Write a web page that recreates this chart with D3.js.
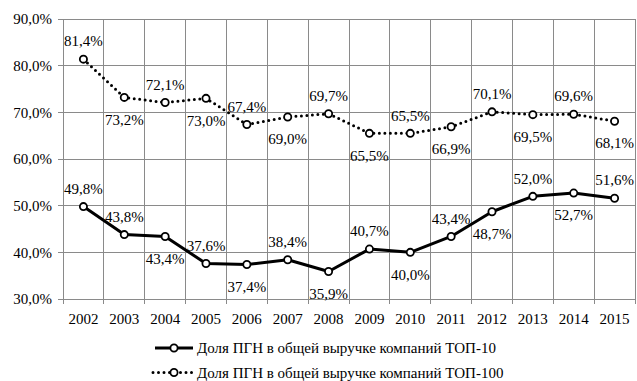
<!DOCTYPE html>
<html><head><meta charset="utf-8">
<script src="https://cdn.jsdelivr.net/npm/d3@7"></script>
<style>html,body{margin:0;padding:0;background:#fff;}svg{display:block;font-family:"Liberation Serif","Times New Roman",serif;}</style>
</head><body>
<svg id="c" width="637" height="381"></svg>
<script>
const years = ["2002","2003","2004","2005","2006","2007","2008","2009","2010","2011","2012","2013","2014","2015"];
const top10 = [49.8, 43.8, 43.4, 37.6, 37.4, 38.4, 35.9, 40.7, 40.0, 43.4, 48.7, 52.0, 52.7, 51.6];
const top100 = [81.4, 73.2, 72.1, 73.0, 67.4, 69.0, 69.7, 65.5, 65.5, 66.9, 70.1, 69.5, 69.6, 68.1];
const top10LabelSide = ["above","above","below","above","below","above","below","above","below","above","below","above","below","above"];
const top100LabelSide = ["above","below","above","below","above","below","above","below","above","below","above","below","above","below"];
const yTicks = [30, 40, 50, 60, 70, 80, 90];
const seriesNames = ["Доля ПГН в общей выручке компаний ТОП-10", "Доля ПГН в общей выручке компаний ТОП-100"];

const fmt = v => v.toFixed(1).replace(".", ",") + "%";
const svg = d3.select("#c");
const L = 63, R = 635, T = 19, B = 299;
const x = d3.scaleBand().domain(years).range([L, R]);
const y = d3.scaleLinear().domain([30, 90]).range([B, T]);
const grid = "#8a8a8a";

// horizontal grid
svg.append("g").selectAll("line").data(yTicks).join("line")
  .attr("x1", L - 5).attr("x2", R).attr("y1", d => y(d)).attr("y2", d => y(d))
  .attr("stroke", grid).attr("stroke-width", 1).attr("shape-rendering", "crispEdges");
// vertical grid at category boundaries
const bounds = years.map(d => x(d)).concat([R]);
svg.append("g").selectAll("line").data(bounds).join("line")
  .attr("x1", d => d).attr("x2", d => d).attr("y1", T).attr("y2", (d, i) => B + 5)
  .attr("stroke", grid).attr("stroke-width", 1).attr("shape-rendering", "crispEdges");

// y labels
svg.append("g").selectAll("text").data(yTicks).join("text")
  .attr("x", 52).attr("y", d => y(d)).attr("dy", "0.35em").attr("text-anchor", "end")
  .attr("font-size", 15).text(d => d.toFixed(1).replace(".", ",") + "%");
// x labels
svg.append("g").selectAll("text").data(years).join("text")
  .attr("x", d => x(d) + x.bandwidth() / 2).attr("y", 318.5).attr("dy", "0.35em")
  .attr("text-anchor", "middle").attr("font-size", 15).text(d => d);

const cx = i => x(years[i]) + x.bandwidth() / 2;
const line = d3.line().x((d, i) => cx(i)).y(d => y(d));

function drawSeries(vals, sides, dotted) {
  const g = svg.append("g");
  g.append("path").datum(vals).attr("d", line).attr("fill", "none")
    .attr("stroke", "#000").attr("stroke-width", dotted ? 3 : 3)
    .attr("stroke-linecap", dotted ? "round" : "butt")
    .attr("stroke-linejoin", "round")
    .attr("stroke-dasharray", dotted ? "0,5.5" : null);
  g.selectAll("circle").data(vals).join("circle")
    .attr("cx", (d, i) => cx(i)).attr("cy", d => y(d)).attr("r", 3.6)
    .attr("fill", "#fff").attr("stroke", "#000").attr("stroke-width", 1.8);
  g.selectAll("text").data(vals).join("text")
    .attr("x", (d, i) => cx(i)).attr("y", (d, i) => y(d) + (sides[i] === "above" ? -18 : 22))
    .attr("dy", "0.35em").attr("text-anchor", "middle").attr("font-size", 15)
    .text(fmt);
}
drawSeries(top100, top100LabelSide, true);
drawSeries(top10, top10LabelSide, false);

// legend
const leg = svg.append("g");
const legY = [348, 372.5];
seriesNames.forEach((name, i) => {
  const ly = legY[i];
  leg.append("line").attr("x1", i ? 153 : 155).attr("x2", i ? 194 : 193).attr("y1", ly).attr("y2", ly)
    .attr("stroke", "#000").attr("stroke-width", 3)
    .attr("stroke-linecap", i ? "round" : "butt")
    .attr("stroke-dasharray", i ? "0,5.5" : null);
  leg.append("circle").attr("cx", 174).attr("cy", ly).attr("r", 3.6)
    .attr("fill", "#fff").attr("stroke", "#000").attr("stroke-width", 1.8);
  leg.append("text").attr("x", 197).attr("y", ly).attr("dy", "0.35em")
    .attr("font-size", 15).text(name);
});
</script>
</body></html>
